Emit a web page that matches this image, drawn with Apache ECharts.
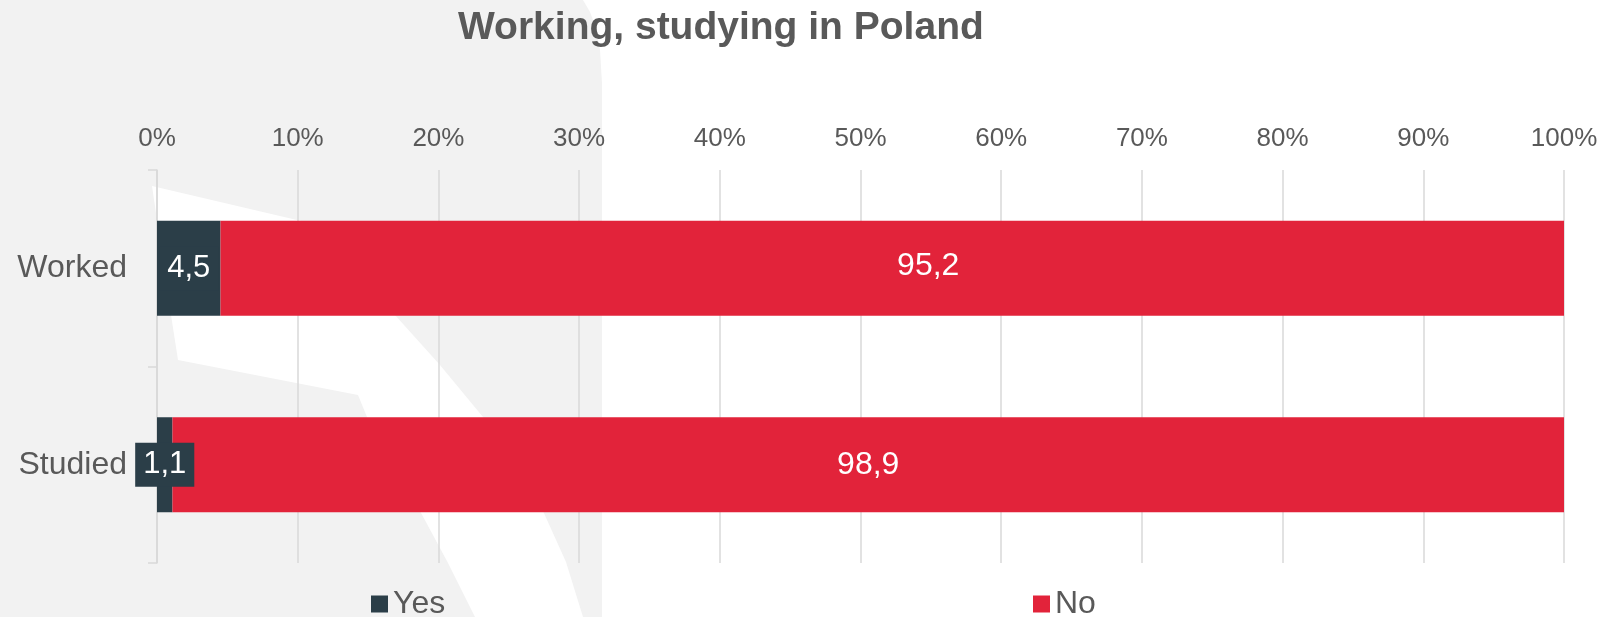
<!DOCTYPE html>
<html>
<head>
<meta charset="utf-8">
<script src="https://cdn.jsdelivr.net/npm/echarts@6/dist/echarts.min.js"></script>
<style>
html,body{margin:0;padding:0;background:#ffffff;}
#chart{width:1615px;height:617px;}
</style>
</head>
<body>
<div id="chart"></div>
<script>
const titleText = 'Working, studying in Poland';
const categories = ['Worked', 'Studied'];
const seriesNames = ['Yes', 'No'];
const yesValues = [4.5, 1.1];
const noValues = [95.2, 98.9];
const tickMin = 0, tickMax = 100, tickStep = 10;

const FONT = '"Liberation Sans", Arial, sans-serif';
const TEXT = '#595959';
const DARK = '#2b3e48';
const RED = '#e2233a';
const GRIDC = '#d9d9d9';

function fmt(v){ return String(v).replace('.', ','); }
const totals = categories.map((c, i) => yesValues[i] + noValues[i]);
const yesData = yesValues.map((v, i) => ({ value: v / totals[i] * 100, raw: v }));
const noData = noValues.map((v, i) => {
  const d = { value: v / totals[i] * 100, raw: v };
  if (i === 0) d.label = { offset: [36, -2] };
  return d;
});

const chart = echarts.init(document.getElementById('chart'), null, { renderer: 'canvas' });
chart.setOption({
  backgroundColor: '#ffffff',
  animation: false,
  textStyle: { fontFamily: FONT },
  graphic: [
    {
      type: 'polygon', z: -100, silent: true,
      shape: { points: [[0,0],[583,0],[590,12],[596,28],[600,50],[602,83],[602,617],[0,617]] },
      style: { fill: '#f2f2f2' }
    },
    {
      type: 'polygon', z: -99, silent: true,
      shape: { points: [[152,186],[314,224],[395,315],[440,365],[483,417],[515,463],[543,511],[566,562],[583,617],[475,617],[448,563],[420,511],[367,417],[358,395],[178,360],[171,315]] },
      style: { fill: '#ffffff' }
    }
  ],
  title: {
    text: titleText,
    left: 458, top: 9, padding: 0,
    textStyle: { fontFamily: FONT, fontSize: 39, fontWeight: 'bold', color: TEXT }
  },
  legend: [
    {
      data: [seriesNames[0]], left: 371, top: 588, padding: 0,
      itemWidth: 17, itemHeight: 17, icon: 'rect',
      textStyle: { fontFamily: FONT, fontSize: 32, color: TEXT }
    },
    {
      data: [seriesNames[1]], left: 1033, top: 588, padding: 0,
      itemWidth: 17, itemHeight: 17, icon: 'rect',
      textStyle: { fontFamily: FONT, fontSize: 32, color: TEXT }
    }
  ],
  grid: { left: 157, right: 51, top: 170, bottom: 54, containLabel: false },
  xAxis: {
    type: 'value', position: 'top',
    min: tickMin, max: tickMax, interval: tickStep,
    axisLine: { show: false }, axisTick: { show: false },
    axisLabel: { formatter: '{value}%', fontFamily: FONT, fontSize: 26, color: TEXT, margin: 18 },
    splitLine: { show: true, lineStyle: { color: GRIDC, width: 1.5 } }
  },
  yAxis: {
    type: 'category', data: categories, inverse: true,
    axisLine: { show: true, lineStyle: { color: GRIDC, width: 1.5 } },
    axisTick: { show: true, length: 9, lineStyle: { color: GRIDC, width: 1.5 } },
    axisLabel: { fontFamily: FONT, fontSize: 32, color: TEXT, margin: 30 }
  },
  series: [
    {
      name: seriesNames[0], type: 'bar', stack: 'total', barWidth: 95,
      itemStyle: { color: DARK },
      label: {
        show: true, position: 'inside', color: '#ffffff', fontFamily: FONT, fontSize: 31,
        backgroundColor: DARK, padding: [7, 8, 6, 8],
        formatter: p => fmt(p.data.raw)
      },
      data: yesData
    },
    {
      name: seriesNames[1], type: 'bar', stack: 'total', barWidth: 95,
      itemStyle: { color: RED },
      label: {
        show: true, position: 'inside', color: '#ffffff', fontFamily: FONT, fontSize: 32,
        formatter: p => fmt(p.data.raw)
      },
      data: noData
    }
  ]
});
</script>
</body>
</html>
